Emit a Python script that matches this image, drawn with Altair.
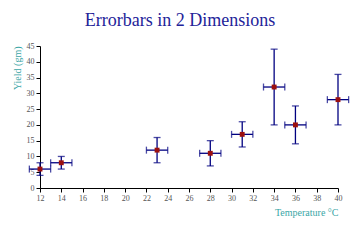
import altair as alt
import pandas as pd

temp = [12, 14, 23, 28, 31, 34, 36, 40]
yld = [6, 8, 12, 11, 17, 32, 20, 28]
x_err = [1, 1, 1, 1, 1, 1, 1, 1]
y_lo = [4, 6, 8, 7, 13, 20, 14, 20]
y_hi = [8, 10, 16, 15, 21, 44, 26, 36]

df = pd.DataFrame({
    "t": temp, "y": yld,
    "xlo": [a - e for a, e in zip(temp, x_err)],
    "xhi": [a + e for a, e in zip(temp, x_err)],
    "ylo": y_lo, "yhi": y_hi,
})

navy = "#000080"
xs = alt.Scale(domain=[12, 40], nice=False, zero=False)
ys = alt.Scale(domain=[0, 45], nice=False)

common = dict(grid=False, titleColor="#3aa6a6", titleFont="Liberation Serif",
              titleFontSize=10, titleFontWeight="normal",
              labelFont="Liberation Serif", labelFontSize=8, labelColor="#555555",
              domainColor="black", tickColor="black", tickSize=4, labelPadding=2,
              labelOverlap=False, labelFlush=False)
xaxis = alt.Axis(values=list(range(12, 41, 2)), title="Temperature °C",
                 titleAlign="right", titleAnchor="end", titleX=298, titleY=24,
                 titleBaseline="middle", **common)
yaxis = alt.Axis(values=list(range(0, 46, 5)), title="Yield (gm)",
                 titleAngle=-90, titleAlign="right", titleX=-23, titleY=0,
                 titleBaseline="middle", **common)


def X(f):
    return alt.X(f, type="quantitative", scale=xs, axis=xaxis)


def Y(f):
    return alt.Y(f, type="quantitative", scale=ys, axis=yaxis)


base = alt.Chart(df)
hbar = base.mark_rule(color=navy, strokeWidth=1.3, clip=False).encode(
    x=X("xlo"), x2="xhi:Q", y=Y("y"))
vbar = base.mark_rule(color=navy, strokeWidth=1.3, clip=False).encode(
    x=X("t"), y=Y("ylo"), y2="yhi:Q")
cap_l = base.mark_tick(color=navy, orient="vertical", size=7, thickness=1.3).encode(
    x=X("xlo"), y=Y("y"))
cap_r = base.mark_tick(color=navy, orient="vertical", size=7, thickness=1.3).encode(
    x=X("xhi"), y=Y("y"))
cap_b = base.mark_tick(color=navy, orient="horizontal", size=7, thickness=1.3).encode(
    x=X("t"), y=Y("ylo"))
cap_t = base.mark_tick(color=navy, orient="horizontal", size=7, thickness=1.3).encode(
    x=X("t"), y=Y("yhi"))
pts = base.mark_point(filled=True, shape="square", size=24, color="#9b1010", opacity=1,
                      strokeWidth=0).encode(x=X("t"), y=Y("y"))

chart = alt.layer(hbar, vbar, cap_l, cap_r, cap_b, cap_t, pts).properties(
    width=298, height=142,
    title=alt.TitleParams("Errorbars in 2 Dimensions", font="Liberation Serif", fontSize=18,
                          fontWeight="normal", color="#232399", anchor="middle", dx=-9, offset=12),
    autosize=alt.AutoSizeParams(type="none"),
    padding={"left": 40, "top": 46, "right": 22, "bottom": 52},
).configure_view(stroke=None)

chart.save("out.html", embed_options={"renderer": "svg", "actions": False})
